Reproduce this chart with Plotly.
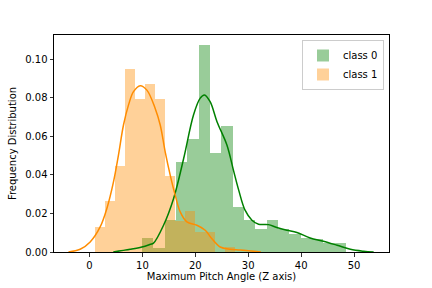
import numpy as np
import plotly.graph_objects as go

# ---- data ----
class0_bin_start = 9.9
class0_bin_width = 2.142
class0_density = [0.0073, 0.0023, 0.0165, 0.0465, 0.0586, 0.1074, 0.0515, 0.0653,
                  0.0234, 0.0165, 0.0118, 0.0165, 0.0118, 0.0096, 0.0073, 0.0068,
                  0.0047, 0.0045]

class1_bin_start = 1.08
class1_bin_width = 1.89
class1_density = [0.0130, 0.0264, 0.0447, 0.0950, 0.0794, 0.0872, 0.0794, 0.0395,
                  0.0161, 0.0212, 0.0104, 0.0104, 0.0, 0.0025]

class0_kde_x = [4.5, 7.7, 9.9, 11.5, 12.1, 14.0, 15.9, 17.8, 19.66, 20.9, 21.74, 22.8,
                24.1, 25.97, 27.2, 28.2, 29.4, 30.7, 31.95, 33.8, 35.4, 37.3, 39.2,
                41.7, 44.2, 46.8, 49.3, 51.8, 53.7]
class0_kde_y = [0.0, 0.0014, 0.0026, 0.0040, 0.0046, 0.0139, 0.0278, 0.0485, 0.0711,
                0.0797, 0.0815, 0.0780, 0.0676, 0.0555, 0.0425, 0.0321, 0.0217, 0.0165,
                0.0144, 0.0142, 0.0127, 0.0113, 0.0101, 0.0073, 0.0056, 0.0035, 0.0014,
                0.0004, 0.0]

class1_kde_x = [-3.97, -1.76, 0.13, 2.02, 3.29, 4.54, 5.48, 6.43, 7.37, 8.32, 9.58,
                10.85, 12.42, 13.37, 14.31, 15.26, 16.2, 17.15, 18.41, 20.3, 21.87,
                23.1, 24.7, 26.6, 28.5, 32.4]
class1_kde_y = [0.0, 0.0014, 0.0052, 0.0130, 0.0226, 0.0364, 0.0503, 0.0659, 0.0762,
                0.0832, 0.0863, 0.0840, 0.0745, 0.0659, 0.0520, 0.0399, 0.0295, 0.0208,
                0.0156, 0.0139, 0.0113, 0.0070, 0.0026, 0.0014, 0.0010, 0.0]

x_ticks = [0, 10, 20, 30, 40, 50]
y_ticks = [0.0, 0.02, 0.04, 0.06, 0.08, 0.10]
x_label = "Maximum Pitch Angle (Z axis)"
y_label = "Frequency Distribution"
series_names = ["class 0", "class 1"]

# ---- figure ----
c0_centers = class0_bin_start + class0_bin_width * (np.arange(len(class0_density)) + 0.5)
c1_centers = class1_bin_start + class1_bin_width * (np.arange(len(class1_density)) + 0.5)

fig = go.Figure()
fig.add_trace(go.Bar(x=c0_centers, y=class0_density, width=class0_bin_width,
                     marker=dict(color="rgba(0,128,0,0.4)", line=dict(width=0)),
                     name=series_names[0], showlegend=True))
fig.add_trace(go.Bar(x=c1_centers, y=class1_density, width=class1_bin_width,
                     marker=dict(color="rgba(255,140,0,0.4)", line=dict(width=0)),
                     name=series_names[1], showlegend=True))
fig.add_trace(go.Scatter(x=class0_kde_x, y=class0_kde_y, mode="lines",
                         line=dict(color="green", width=1.5, shape="spline"),
                         showlegend=False, hoverinfo="skip"))
fig.add_trace(go.Scatter(x=class1_kde_x, y=class1_kde_y, mode="lines",
                         line=dict(color="darkorange", width=1.5, shape="spline"),
                         showlegend=False, hoverinfo="skip"))

axis_common = dict(showline=True, linecolor="black", linewidth=1, mirror=True,
                   ticks="outside", ticklen=3.5, tickwidth=0.8, tickcolor="black",
                   showgrid=False, zeroline=False, automargin=False,
                   tickfont=dict(family="DejaVu Sans", size=10, color="black"))

fig.update_layout(
    width=432, height=288,
    margin=dict(l=54, r=43, t=35, b=36),
    paper_bgcolor="white", plot_bgcolor="white",
    barmode="overlay", bargap=0,
    font=dict(family="DejaVu Sans", size=10, color="black"),
    xaxis=dict(range=[-6.7, 56.6], tickvals=x_ticks,
               title=dict(text=x_label, standoff=3, font=dict(size=10)), **axis_common),
    yaxis=dict(range=[0, 0.1126], tickvals=y_ticks, tickformat=".2f",
               title=dict(text=y_label, standoff=6, font=dict(size=10)), **axis_common),
    legend=dict(x=0.985, y=0.977, xanchor="right", yanchor="top",
                bgcolor="rgba(255,255,255,0.8)", bordercolor="#cccccc", borderwidth=1,
                font=dict(size=10), tracegroupgap=0, itemwidth=30),
)

fig.write_html("out.html",
               config={"displayModeBar": False, "staticPlot": True},
               post_script="document.body.style.margin='0';document.body.style.padding='0';"
                           "document.body.style.overflow='hidden';")
